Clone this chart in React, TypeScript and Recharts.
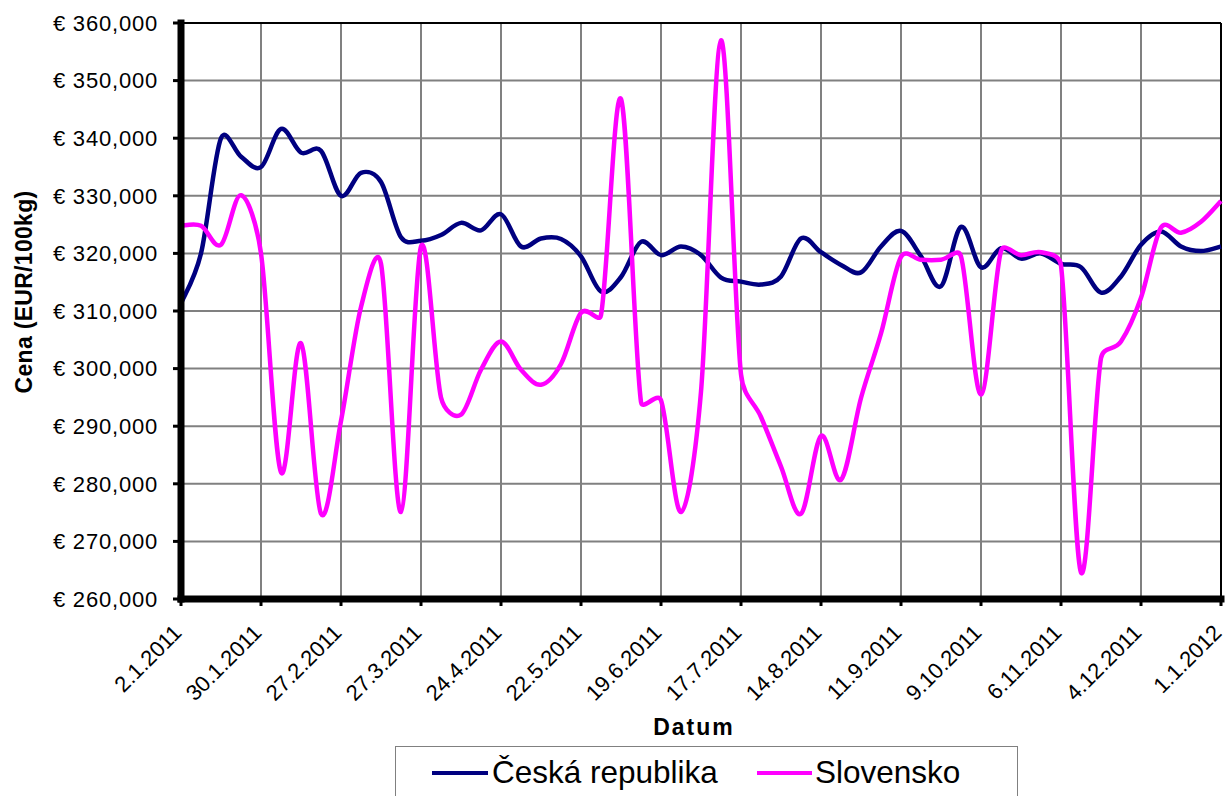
import React from 'react';
import { LineChart, Line, XAxis, YAxis, CartesianGrid, ReferenceLine, Legend, Label } from 'recharts';

const dates = [
  '2.1.2011', '9.1.2011', '16.1.2011', '23.1.2011', '30.1.2011', '6.2.2011', '13.2.2011', '20.2.2011',
  '27.2.2011', '6.3.2011', '13.3.2011', '20.3.2011', '27.3.2011', '3.4.2011', '10.4.2011', '17.4.2011',
  '24.4.2011', '1.5.2011', '8.5.2011', '15.5.2011', '22.5.2011', '29.5.2011', '5.6.2011', '12.6.2011',
  '19.6.2011', '26.6.2011', '3.7.2011', '10.7.2011', '17.7.2011', '24.7.2011', '31.7.2011', '7.8.2011',
  '14.8.2011', '21.8.2011', '28.8.2011', '4.9.2011', '11.9.2011', '18.9.2011', '25.9.2011', '2.10.2011',
  '9.10.2011', '16.10.2011', '23.10.2011', '30.10.2011', '6.11.2011', '13.11.2011', '20.11.2011', '27.11.2011',
  '4.12.2011', '11.12.2011', '18.12.2011', '25.12.2011', '1.1.2012',
];

const ceskaRepublika = [
  311.3, 320, 340, 336.8, 335, 341.6, 337.5, 337.8, 330, 334, 332.4, 322.8, 322.2, 323.2,
  325.3, 324, 326.8, 321.2, 322.6, 322.5, 319.5, 313.4, 315.9, 322, 319.7, 321.2, 319.7,
  315.8, 315.1, 314.6, 316, 322.6, 320.2, 318, 316.7, 321.2, 323.9, 319.5, 314.3, 324.6,
  317.6, 320.9, 319.1, 320, 318.2, 317.6, 313.2, 316, 321.5, 323.8, 321.2, 320.4, 321.2,
];

const slovensko = [
  324.8, 324.8, 321.5, 330.1, 320, 282, 304.4, 274.8, 290.9, 310.7, 318.2, 275.1, 321.2, 295,
  292, 299.8, 304.7, 299.8, 297.2, 300.8, 309.7, 309.3, 346.8, 294.2, 294.5, 275.1, 296,
  357, 299, 291.6, 283, 274.8, 288.3, 280.7, 294.9, 306.1, 319.4, 318.9, 318.9, 319.5,
  295.5, 320.4, 319.7, 320.2, 317.9, 264.6, 301.8, 304.7, 312.3, 324.5, 323.6, 325.5, 329.1,
];

const xTicks = [0, 4, 8, 12, 16, 20, 24, 28, 32, 36, 40, 44, 48, 52];
const yTicks = [260, 270, 280, 290, 300, 310, 320, 330, 340, 350, 360];

const FONT = '"Liberation Sans", Arial, sans-serif';
const NAVY = '#000080';
const PINK = '#FF00FF';

const data = dates.map((d, i) => ({ i, d, cz: ceskaRepublika[i], sk: slovensko[i] }));

// smoothed line like Excel: Catmull-Rom, control arms capped by segment length
const capArm = (dx: number, dy: number, seg: number) => {
  const len = Math.hypot(dx, dy);
  const max = seg * 0.5;
  if (len <= max || len === 0) return [dx, dy];
  return [(dx * max) / len, (dy * max) / len];
};

const excelCurve = (context: any) => {
  let pts: number[][] = [];
  return {
    areaStart() {},
    areaEnd() {},
    lineStart() {
      pts = [];
    },
    point(x: number, y: number) {
      pts.push([+x, +y]);
    },
    lineEnd() {
      if (!pts.length) return;
      context.moveTo(pts[0][0], pts[0][1]);
      for (let k = 0; k < pts.length - 1; k++) {
        const p0 = pts[Math.max(k - 1, 0)];
        const p1 = pts[k];
        const p2 = pts[k + 1];
        const p3 = pts[Math.min(k + 2, pts.length - 1)];
        const seg = Math.hypot(p2[0] - p1[0], p2[1] - p1[1]);
        const a = capArm((p2[0] - p0[0]) / 6, (p2[1] - p0[1]) / 6, seg);
        const b = capArm((p3[0] - p1[0]) / 6, (p3[1] - p1[1]) / 6, seg);
        context.bezierCurveTo(p1[0] + a[0], p1[1] + a[1], p2[0] - b[0], p2[1] - b[1], p2[0], p2[1]);
      }
    },
  };
};

const YTick = ({ x, y, payload }: any) => (
  <text x={x} y={y} dy="0.35em" textAnchor="end" fontSize={22} letterSpacing={0.8} fontFamily={FONT} fill="#000">
    {'€ ' + payload.value.toFixed(3).replace('.', ',')}
  </text>
);

const XTick = ({ x, y, payload }: any) => {
  const ax = x + 2;
  const ay = y + 26;
  return (
    <text x={ax} y={ay} textAnchor="end" fontSize={22} fontFamily={FONT} fill="#000" transform={`rotate(-45, ${ax}, ${ay})`}>
      {dates[payload.value]}
    </text>
  );
};

const LegendBox = () => (
  <div
    style={{
      position: 'relative',
      width: 623,
      height: 70,
      boxSizing: 'border-box',
      border: '1px solid #808080',
      background: '#fff',
      fontFamily: FONT,
      fontSize: 31.5,
      lineHeight: '31.5px',
      color: '#000',
    }}
  >
    <div style={{ position: 'absolute', left: 36, top: 24, width: 56, height: 4, background: NAVY }} />
    <span style={{ position: 'absolute', left: 96, top: 10, whiteSpace: 'nowrap' }}>Česká republika</span>
    <div style={{ position: 'absolute', left: 361, top: 24, width: 55, height: 4, background: PINK }} />
    <span style={{ position: 'absolute', left: 419, top: 10, whiteSpace: 'nowrap' }}>Slovensko</span>
  </div>
);

export default function App() {
  return (
    <div style={{ position: 'absolute', left: 0, top: 0, width: 1229, height: 796, overflow: 'hidden', background: '#fff', fontFamily: FONT }}>
      <LineChart width={1229} height={796} data={data} margin={{ top: 23, right: 8, bottom: 137, left: 0 }}>
        <CartesianGrid stroke="#808080" strokeWidth={2} />
        <XAxis
          dataKey="i"
          type="number"
          domain={[0, 52]}
          ticks={xTicks}
          height={60}
          interval={0}
          tick={<XTick />}
          tickSize={7}
          tickLine={{ stroke: '#000', strokeWidth: 3 }}
          axisLine={{ stroke: '#000', strokeWidth: 7, strokeLinecap: 'square' }}
        >
          <Label
            content={() => (
              <text x={694} y={735} textAnchor="middle" fontSize={23} fontWeight="bold" letterSpacing={2} fontFamily={FONT} fill="#000">
                Datum
              </text>
            )}
          />
        </XAxis>
        <YAxis
          type="number"
          domain={[260, 360]}
          ticks={yTicks}
          width={181}
          interval={0}
          tick={<YTick />}
          tickSize={8}
          tickMargin={15}
          tickLine={{ stroke: '#000', strokeWidth: 3 }}
          axisLine={{ stroke: '#000', strokeWidth: 7, strokeLinecap: 'square' }}
        >
          <Label
            content={() => (
              <text
                x={24}
                y={292}
                textAnchor="middle"
                dominantBaseline="central"
                fontSize={23}
                fontWeight="bold"
                letterSpacing={0.3}
                fontFamily={FONT}
                fill="#000"
                transform="rotate(-90, 24, 292)"
              >
                Cena (EUR/100kg)
              </text>
            )}
          />
        </YAxis>
        <ReferenceLine y={360} stroke="#000" strokeWidth={2} />
        <ReferenceLine x={52} stroke="#000" strokeWidth={2} />
        <Line
          dataKey="cz"
          name="Česká republika"
          type={excelCurve as any}
          stroke={NAVY}
          strokeWidth={4.5}
          dot={false}
          activeDot={false}
          isAnimationActive={false}
        />
        <Line
          dataKey="sk"
          name="Slovensko"
          type={excelCurve as any}
          stroke={PINK}
          strokeWidth={4.5}
          dot={false}
          activeDot={false}
          isAnimationActive={false}
        />
        <Legend
          layout="horizontal"
          verticalAlign="middle"
          align="center"
          content={() => <LegendBox />}
          wrapperStyle={{ left: 395, top: 746, width: 623, height: 70 }}
        />
      </LineChart>
    </div>
  );
}
